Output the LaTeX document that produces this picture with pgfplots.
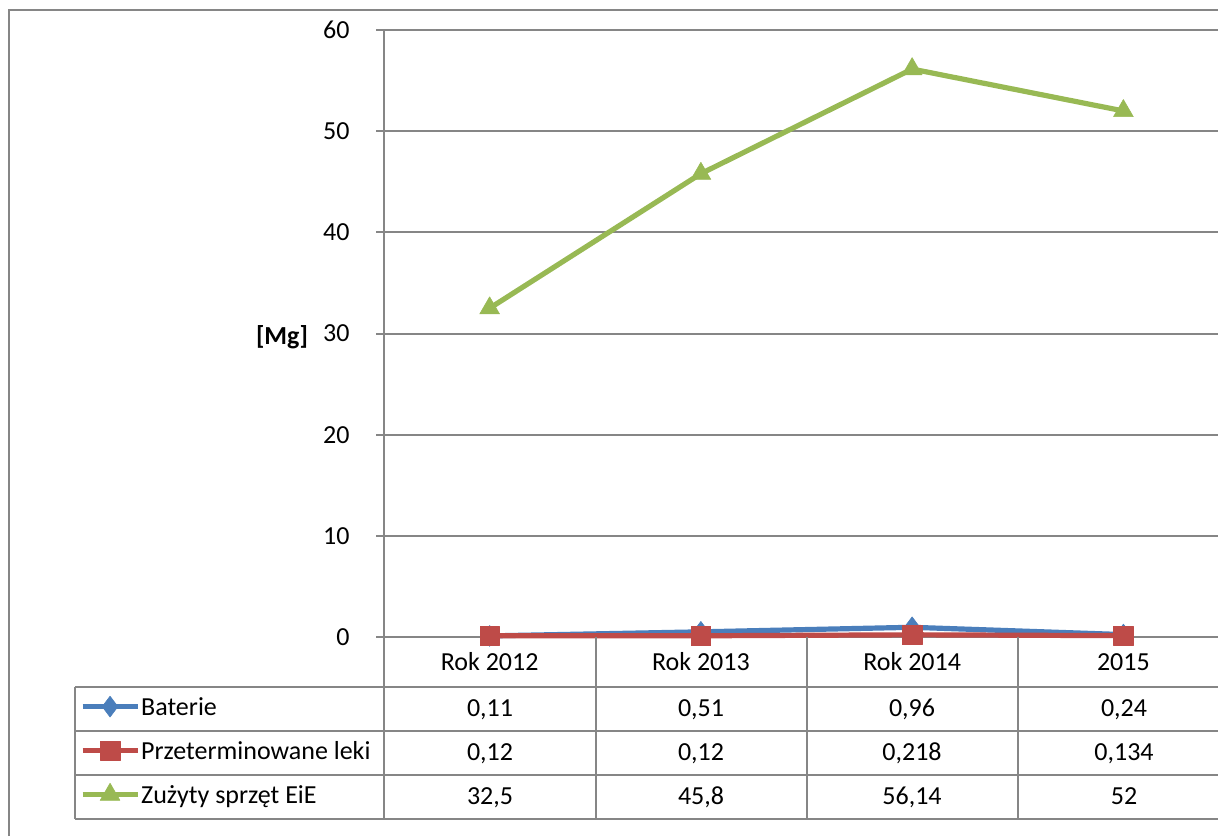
\documentclass[border=0pt]{standalone}
\usepackage{pgfplots}
\pgfplotsset{compat=1.18}
\usepackage{fontspec}
\setmainfont{Carlito}
\definecolor{cblue}{HTML}{4A7EBB}
\definecolor{cred}{HTML}{BE4B48}
\definecolor{cgreen}{HTML}{98B954}
\definecolor{cgrid}{RGB}{134,134,134}

\begin{document}
\begin{tikzpicture}[font=\fontsize{13}{15}\selectfont]
\useasboundingbox (0,0) rectangle (609pt,418pt);
\clip (0,0) rectangle (609pt,418pt);
\begin{axis}[
  at={(192pt,99.5pt)}, anchor=south west,
  scale only axis, width=422.5pt, height=303.5pt,
  xmin=0.5, xmax=4.5, ymin=0, ymax=60,
  ytick={0,10,...,60},
  xtick={1,2,3,4}, xticklabels={Rok 2012,Rok 2013,Rok 2014,2015},
  axis x line*=bottom, axis y line*=left,
  axis line style={cgrid, line width=1pt, -},
  ymajorgrids, grid style={cgrid, line width=1pt},
  tick align=outside, major tick length=4pt,
  y tick style={cgrid, line width=1pt},
  x tick style={draw=none},
  /pgf/number format/assume math mode=true,
  yticklabel style={anchor=east, inner sep=0pt, xshift=-13pt},
  xticklabel style={anchor=center, inner sep=0pt, yshift=-8.5pt},
  clip=false,
  legend style={at={(-0.3598,-0.0824)}, anchor=north west, draw=none, fill=none,
    inner sep=0pt, outer sep=0pt, row sep=0pt, /tikz/column sep=0.5pt,
    nodes={inner sep=0pt, text height=14pt, text depth=8pt, anchor=base west},
    cells={anchor=base west}},
  legend image code/.code={\draw[mark repeat=2,mark phase=2,#1] plot coordinates {(0pt,4.2pt) (13.75pt,4.2pt) (27.5pt,4.2pt)};},
]
\addplot[cblue, line width=2.6pt, line join=round, mark=diamond*, mark size=5.2pt, mark options={solid, line width=0.3pt}] coordinates {(1,0.11) (2,0.51) (3,0.96) (4,0.24)};
\addlegendentry{Baterie}
\addplot[cred, line width=2.6pt, line join=round, mark=square*, mark size=4.9pt, mark options={solid, line width=0.3pt}] coordinates {(1,0.12) (2,0.12) (3,0.218) (4,0.134)};
\addlegendentry{Przeterminowane leki}
\addplot[cgreen, line width=2.6pt, line join=round, mark=triangle*, mark size=5.7pt, mark options={solid, line width=0.3pt}] coordinates {(1,32.5) (2,45.8) (3,56.14) (4,52)};
\addlegendentry{Zużyty sprzęt EiE}
\end{axis}
\begin{scope}[x=0.5pt, y=-0.5pt, yshift=418pt]
  \draw[cgrid, line width=1pt] (9,836) -- (9,10) -- (1230,10);
  \draw[cgrid, line width=1pt] (384,637) -- (384,819);
  \foreach \xx in {596,807,1018} \draw[cgrid, line width=1pt] (\xx,637) -- (\xx,819);
  \draw[cgrid, line width=1pt] (75,687) -- (75,819);
  \foreach \yy in {687,731,775,819} \draw[cgrid, line width=1pt] (75,\yy) -- (1230,\yy);
  \node[font=\fontsize{13}{15}\bfseries] at (282,337) {[Mg]};
  \foreach \xx/\t in {490/{0,11},701/{0,51},912/{0,96},1124/{0,24}} \node[anchor=base, inner sep=0pt] at (\xx,716.4) {\t};
  \foreach \xx/\t in {490/{0,12},701/{0,12},912/{0,218},1124/{0,134}} \node[anchor=base, inner sep=0pt] at (\xx,760.4) {\t};
  \foreach \xx/\t in {490/{32,5},701/{45,8},912/{56,14},1124/{52}} \node[anchor=base, inner sep=0pt] at (\xx,804.4) {\t};
\end{scope}
\end{tikzpicture}
\end{document}
